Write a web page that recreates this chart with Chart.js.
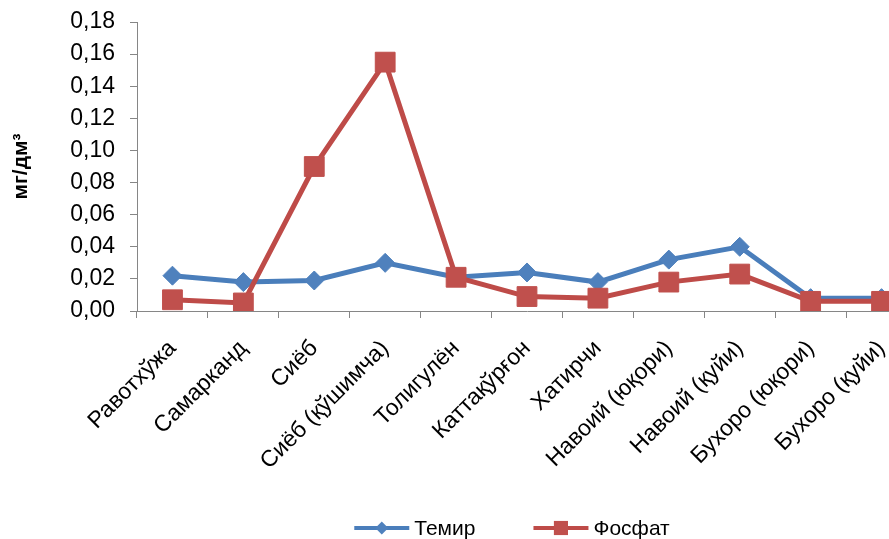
<!DOCTYPE html>
<html>
<head>
<meta charset="utf-8">
<script src="https://cdn.jsdelivr.net/npm/chart.js@4.4.0/dist/chart.umd.min.js"></script>
<style>
    html, body { margin: 0; padding: 0; overflow: hidden; background: #fff; }
    #wrap { width: 932px; height: 539px; }
</style>
</head>
<body>
<div id="wrap"><canvas id="waterChart" width="932" height="539"></canvas></div>
<script>
// Data
const stations = ['Равотхўжа', 'Самарканд', 'Сиёб', 'Сиёб (қўшимча)', 'Толигулён', 'Каттақўрғон',
    'Хатирчи', 'Навоий (юқори)', 'Навоий (қуйи)', 'Бухоро (юқори)', 'Бухоро (қуйи)'];
const iron = [0.022, 0.018, 0.019, 0.030, 0.021, 0.024, 0.018, 0.032, 0.040, 0.008, 0.008];
const phosphate = [0.007, 0.005, 0.090, 0.155, 0.021, 0.009, 0.008, 0.018, 0.023, 0.006, 0.006];
const yTickValues = [0, 0.02, 0.04, 0.06, 0.08, 0.10, 0.12, 0.14, 0.16, 0.18];
const seriesNames = ['Темир', 'Фосфат'];

const BLUE = '#4A7EBB';
const RED = '#BE4B48';
const AXIS = '#868686';
const FONT = "'Liberation Sans', Arial, sans-serif";

/**
 * Excel-style legend: short line with the marker on it, then the name
 */
const lineLegend = {
    id: 'lineLegend',
    afterDraw(chart) {
        const { ctx, chartArea } = chart;
        const lineLen = 55;
        const textGap = 5;
        const itemGap = 58;

        ctx.save();
        ctx.font = `21px ${FONT}`;
        const items = chart.data.datasets.map(ds => ({ ds, w: ctx.measureText(ds.label).width }));
        const total = items.reduce((s, it) => s + lineLen + textGap + it.w, 0) + itemGap * (items.length - 1);
        let x = (chartArea.left + chartArea.right) / 2 - 15 - total / 2;
        const y = chart.height - 11;

        items.forEach(({ ds, w }) => {
            ctx.strokeStyle = ds.borderColor;
            ctx.lineWidth = 4;
            ctx.beginPath();
            ctx.moveTo(x, y);
            ctx.lineTo(x + lineLen, y);
            ctx.stroke();

            ctx.fillStyle = ds.backgroundColor;
            Chart.helpers.drawPoint(ctx, {
                pointStyle: ds.pointStyle,
                rotation: 0,
                radius: ds.legendRadius,
                borderWidth: 0
            }, x + lineLen / 2, y);

            ctx.fillStyle = '#000';
            ctx.textAlign = 'left';
            ctx.textBaseline = 'middle';
            ctx.fillText(ds.label, x + lineLen + textGap, y + 1);
            x += lineLen + textGap + w + itemGap;
        });
        ctx.restore();
    }
};

const ctx = document.getElementById('waterChart').getContext('2d');
new Chart(ctx, {
    type: 'line',
    data: {
        labels: stations,
        datasets: [{
            label: seriesNames[0],
            data: iron,
            borderColor: BLUE,
            backgroundColor: '#4F81BD',
            pointBorderColor: '#4F81BD',
            borderWidth: 5,
            tension: 0,
            pointStyle: 'rectRot',
            pointRadius: 9.5,
            pointBorderWidth: 1,
            legendRadius: 6.5,
            order: 1
        }, {
            label: seriesNames[1],
            data: phosphate,
            borderColor: RED,
            backgroundColor: '#C0504D',
            pointBorderColor: '#C0504D',
            borderWidth: 5,
            tension: 0,
            pointStyle: 'rect',
            pointRadius: 14,
            pointBorderWidth: 1,
            legendRadius: 10,
            order: 0
        }]
    },
    options: {
        responsive: false,
        animation: false,
        layout: {
            padding: { top: 0, left: 0, right: 2, bottom: 28 }
        },
        plugins: {
            tooltip: { enabled: false },
            legend: { display: false }
        },
        scales: {
            x: {
                offset: true,
                afterFit: scale => { scale.height = 200; },
                border: { display: true, color: AXIS, width: 1 },
                grid: {
                    offset: true,
                    drawOnChartArea: false,
                    drawTicks: true,
                    tickLength: 7,
                    color: AXIS
                },
                ticks: {
                    autoSkip: false,
                    minRotation: 45,
                    maxRotation: 45,
                    padding: 17,
                    color: '#000',
                    font: { family: FONT, size: 23 }
                }
            },
            y: {
                min: 0,
                max: 0.18,
                afterFit: scale => {
                    scale.width = 137;
                    scale.paddingTop = 22;
                },
                afterBuildTicks: scale => {
                    scale.ticks = yTickValues.map(v => ({ value: v }));
                },
                border: { display: true, color: AXIS, width: 1 },
                grid: {
                    drawOnChartArea: false,
                    drawTicks: true,
                    tickLength: 7,
                    color: AXIS
                },
                ticks: {
                    padding: 15,
                    color: '#000',
                    font: { family: FONT, size: 23 },
                    callback: v => v.toFixed(2).replace('.', ',')
                },
                title: {
                    display: true,
                    text: 'мг/дм³',
                    color: '#000',
                    padding: { top: 9, bottom: 0 },
                    font: { family: FONT, size: 21, weight: 'bold' }
                }
            }
        }
    },
    plugins: [lineLegend]
});
</script>
</body>
</html>
